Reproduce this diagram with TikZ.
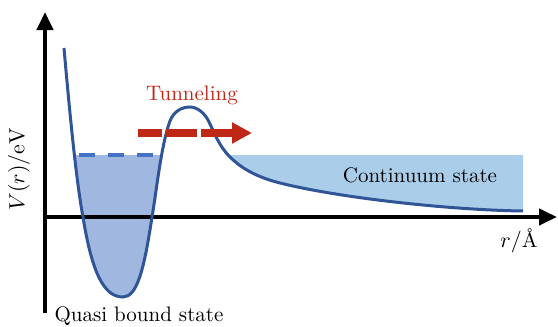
\documentclass[tikz,border=0pt]{standalone}
\usepackage{tikz}
\usepackage{xcolor}
\usetikzlibrary{arrows.meta, positioning}
\definecolor{curveblue}{HTML}{2F5597}
\definecolor{levelblue}{HTML}{4472C4}
\definecolor{wellfill}{HTML}{A0B8E0}
\definecolor{contfill}{HTML}{AACDEA}
\definecolor{tunnelred}{HTML}{BF2717}

% potential curve, pixel coordinates
\newcommand{\potcurve}{(64,48) .. controls (69,105) and (76,180) .. (83,217)
  .. controls (92,273) and (104,297) .. (123,297)
  .. controls (137,297) and (144,270) .. (152,217)
  .. controls (156,195) and (161,145) .. (170,121)
  .. controls (173.5,112) and (181,107) .. (190,107)
  .. controls (197,107) and (205,113) .. (209,122)
  .. controls (215,134) and (219,146) .. (230,157)
  .. controls (238,165) and (252,176) .. (280,183)
  .. controls (340,198) and (450,210) .. (523,211)}

\begin{document}
\begin{tikzpicture}[
    x=0.5pt, y=-0.5pt,
    font=\fontsize{10.5}{12}\selectfont,
    axisline/.style={-{Triangle[length=9pt, width=8pt]}, line width=2pt, draw=black},
    potline/.style={line width=1.5pt, draw=curveblue},
    levelline/.style={line width=2pt, draw=levelblue, dash pattern=on 8pt off 6.5pt},
    tunnelline/.style={-{Triangle[length=10pt, width=10pt]}, line width=4pt, draw=tunnelred, dash pattern=on 12pt off 2pt on 15.5pt off 2pt on 20pt off 0pt}
  ]
    \useasboundingbox (0,0) rectangle (558,327);

    % filled regions
    \begin{scope}
      \clip (40,155) rectangle (175,305);
      \fill[wellfill] \potcurve -- (523,140) -- (64,140) -- cycle;
    \end{scope}
    \begin{scope}
      \clip (200,155) rectangle (523,216);
      \fill[contfill] \potcurve -- (523,140) -- (64,140) -- cycle;
    \end{scope}

    % axes
    \coordinate (yfoot) at (45,313);
    \coordinate (ytip) at (45,12);
    \coordinate (xfoot) at (45,217);
    \coordinate (xtip) at (557,217);
    \draw[axisline] (yfoot) -- (ytip);
    \draw[axisline] (xfoot) -- (xtip);

    % level and potential
    \coordinate (lvlL) at (79,155);
    \coordinate (lvlR) at (158,155);
    \draw[levelline] (lvlL) -- (lvlR);
    \draw[potline] \potcurve;

    % tunneling arrow
    \coordinate (tunA) at (138,133);
    \coordinate (tunB) at (252,133);
    \draw[tunnelline] (tunA) -- (tunB);

    \node[text=tunnelred] (tunnel) at (192,95) {Tunneling};
    \node (cont) at (420,175) {Continuum state};
    \node (quasi) at (139,316) {Quasi bound state};
    \node (xlab) at (519,241) {$r/\mbox{\AA}$};
    \node[rotate=90] (ylab) at (19,169) {$V(r)/\mathrm{eV}$};
  \end{tikzpicture}
\end{document}
